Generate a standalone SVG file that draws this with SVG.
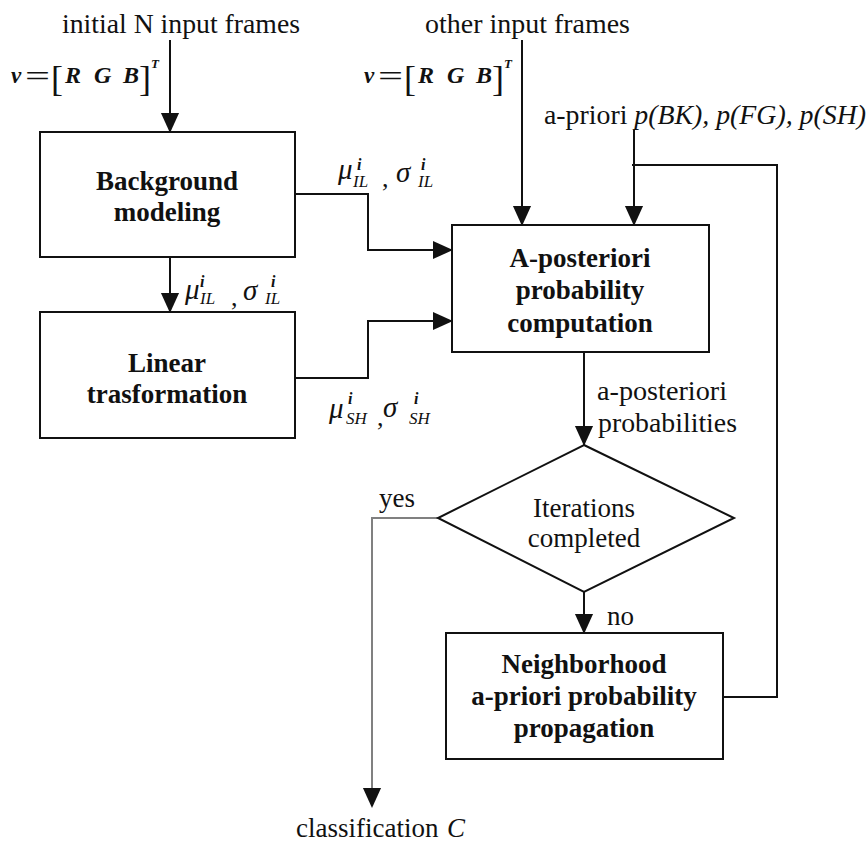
<svg xmlns="http://www.w3.org/2000/svg" width="866" height="843" viewBox="0 0 866 843">
<style>
.box{fill:#fff;stroke:#111;stroke-width:2}
.ln{fill:none;stroke:#111;stroke-width:2}
.gray{stroke:#808080}
.t{font-family:"Liberation Serif","Times New Roman",serif;font-size:27px;fill:#111}
.b{font-weight:bold;text-anchor:middle}
.c{text-anchor:middle}
.i{font-style:italic}
.bi{font-style:italic;font-weight:bold}
.f24{font-size:24px}
.fv{font-size:23px}
.eq{font-size:30px;font-style:normal;font-weight:normal}
.br{font-size:36px;font-style:normal;font-weight:normal}
.ts{font-size:13px}
.m{font-family:"Liberation Serif","Times New Roman",serif;font-style:italic;fill:#111}
.mu{font-size:29px}
.cm{font-size:26px;font-style:normal}
.sub{font-size:17px}
.sup{font-size:16px;font-weight:bold}
</style>
<defs>
<marker id="ah" markerUnits="userSpaceOnUse" markerWidth="20" markerHeight="22" refX="21" refY="10" orient="auto" viewBox="0 0 22 20">
<path d="M0,0 L22,10 L0,20 z" fill="#111"/>
</marker>
</defs>
<rect width="866" height="843" fill="#fff"/>

<g id="connectors">
<path class="ln" d="M170,40 V132" marker-end="url(#ah)"/>
<path class="ln" d="M522,40 V225" marker-end="url(#ah)"/>
<path class="ln" d="M634,130 V225" marker-end="url(#ah)"/>
<path class="ln" d="M170,257 V312" marker-end="url(#ah)"/>
<path class="ln" d="M295,194 H368 V250 H452" marker-end="url(#ah)"/>
<path class="ln" d="M295,378 H368 V321 H452" marker-end="url(#ah)"/>
<path class="ln" d="M584,352 V445" marker-end="url(#ah)"/>
<path class="ln" d="M584,592 V633" marker-end="url(#ah)"/>
<path class="ln" d="M723,697 H777 V165 H632"/>
<path class="ln gray" d="M438,518 H372 V790"/>
<path class="ln" d="M372,789 V807" marker-end="url(#ah)" stroke-opacity="0"/>
</g>

<g id="input-initial">
<text class="t" x="62" y="33" textLength="238" lengthAdjust="spacingAndGlyphs">initial N input frames</text>
<text class="t bi fv" x="11" y="83">v</text>
<text class="t eq" x="25" y="86" textLength="25" lengthAdjust="spacingAndGlyphs">=</text>
<text class="t br" x="51" y="91">[</text>
<text class="t bi f24" x="65" y="83">R</text>
<text class="t bi f24" x="94" y="83">G</text>
<text class="t bi f24" x="123" y="83">B</text>
<text class="t br" x="139" y="91">]</text>
<text class="t bi ts" x="151" y="68">T</text>
</g>

<g id="input-other">
<text class="t" x="425" y="33" textLength="205" lengthAdjust="spacingAndGlyphs">other input frames</text>
<text class="t bi fv" x="364" y="83">v</text>
<text class="t eq" x="378" y="86" textLength="25" lengthAdjust="spacingAndGlyphs">=</text>
<text class="t br" x="404" y="91">[</text>
<text class="t bi f24" x="418" y="83">R</text>
<text class="t bi f24" x="447" y="83">G</text>
<text class="t bi f24" x="476" y="83">B</text>
<text class="t br" x="492" y="91">]</text>
<text class="t bi ts" x="504" y="68">T</text>
</g>

<g id="apriori-input">
<text class="t" x="544" y="124" textLength="322" lengthAdjust="spacingAndGlyphs">a-priori <tspan class="i">p(BK), p(FG), p(SH)</tspan></text>
</g>

<g id="background-modeling">
<rect class="box" x="40" y="132" width="255" height="125"/>
<text class="t b" x="167" y="190">Background</text>
<text class="t b" x="167" y="221">modeling</text>
</g>

<g id="linear-transformation">
<rect class="box" x="40" y="312" width="255" height="126"/>
<text class="t b" x="167" y="372">Linear</text>
<text class="t b" x="167" y="403">trasformation</text>
</g>

<g id="a-posteriori-computation">
<rect class="box" x="452" y="225" width="257" height="127"/>
<text class="t b" x="580" y="267">A-posteriori</text>
<text class="t b" x="580" y="299">probability</text>
<text class="t b" x="580" y="332">computation</text>
</g>

<g id="iterations-completed">
<polygon class="box" points="584,445 734,518 584,592 438,518"/>
<text class="t c" x="584" y="517">Iterations</text>
<text class="t c" x="584" y="547">completed</text>
</g>

<g id="neighborhood-propagation">
<rect class="box" x="446" y="633" width="277" height="126"/>
<text class="t b" x="584" y="673">Neighborhood</text>
<text class="t b" x="584" y="705">a-priori probability</text>
<text class="t b" x="584" y="737">propagation</text>
</g>

<g id="labels">
<text class="m mu" x="338" y="179">μ</text>
<text class="m sup" x="357" y="170">i</text>
<text class="m sub" x="353" y="187">IL</text>
<text class="m cm" x="382" y="187">,</text>
<text class="m mu" x="396" y="182">σ</text>
<text class="m sup" x="421" y="170">i</text>
<text class="m sub" x="418" y="187">IL</text>

<text class="m mu" x="185" y="299">μ</text>
<text class="m sup" x="200" y="287">i</text>
<text class="m sub" x="200" y="304">IL</text>
<text class="m cm" x="231" y="306">,</text>
<text class="m mu" x="243" y="300">σ</text>
<text class="m sup" x="271" y="287">i</text>
<text class="m sub" x="265" y="304">IL</text>

<text class="m mu" x="329" y="418">μ</text>
<text class="m sup" x="348" y="404">i</text>
<text class="m sub" x="346" y="424">SH</text>
<text class="m cm" x="377" y="426">,</text>
<text class="m mu" x="383" y="417">σ</text>
<text class="m sup" x="414" y="404">i</text>
<text class="m sub" x="409" y="424">SH</text>

<text class="t" x="597" y="400" textLength="130" lengthAdjust="spacingAndGlyphs">a-posteriori</text>
<text class="t" x="598" y="432" textLength="139" lengthAdjust="spacingAndGlyphs">probabilities</text>
<text class="t" x="379" y="507">yes</text>
<text class="t" x="607" y="625">no</text>
<text class="t" x="296" y="837">classification</text>
<text class="t i" x="447" y="837">C</text>
</g>
</svg>
